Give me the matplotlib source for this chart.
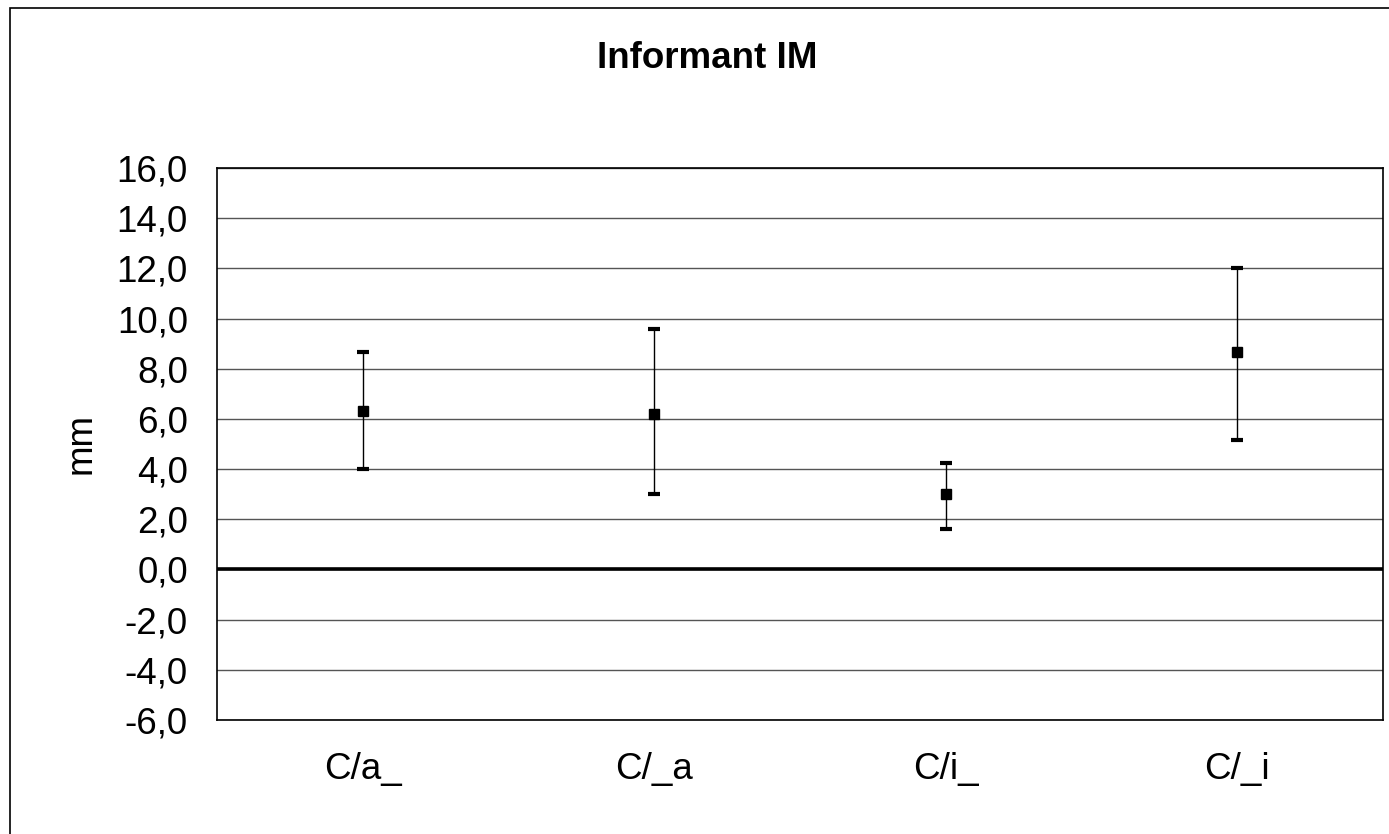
import matplotlib.pyplot as plt
from matplotlib.patches import Rectangle
from matplotlib.ticker import FuncFormatter, MultipleLocator

plt.rcParams["font.family"] = ["Liberation Sans", "DejaVu Sans"]

# Daten
kategorien = ["C/a_", "C/_a", "C/i_", "C/_i"]
mittelwert = [6.3, 6.2, 3.0, 8.65]
obere_grenze = [8.65, 9.6, 4.25, 12.0]
untere_grenze = [4.0, 3.0, 1.6, 5.15]

W, H = 1389, 834
fig = plt.figure(figsize=(W / 100, H / 100), dpi=100)
ax = fig.add_axes([217 / W, 1 - 720 / H, (1383 - 217) / W, (720 - 168) / H])

x = list(range(len(kategorien)))
fehler_unten = [m - u for m, u in zip(mittelwert, untere_grenze)]
fehler_oben = [o - m for m, o in zip(mittelwert, obere_grenze)]

ax.errorbar(x, mittelwert, yerr=[fehler_unten, fehler_oben], fmt="s",
            color="black", ecolor="black", elinewidth=1.0, capsize=4.5,
            capthick=3, markersize=7.5, zorder=5)

ax.set_xlim(-0.5, len(kategorien) - 0.5)
ax.set_ylim(-6, 16)
ax.yaxis.set_major_locator(MultipleLocator(2))
ax.yaxis.set_major_formatter(FuncFormatter(lambda v, p: f"{v:.1f}".replace(".", ",")))
ax.set_xticks(x)
ax.set_xticklabels(kategorien)
ax.tick_params(axis="both", length=0, labelsize=26.5)
ax.tick_params(axis="y", pad=21)
ax.tick_params(axis="x", pad=23)

ax.grid(axis="y", color="#555555", linewidth=1.0)
ax.axhline(0, color="black", linewidth=2.6, zorder=4)
for s in ax.spines.values():
    s.set_linewidth(1.2)
    s.set_color("black")

ax.set_ylabel("mm", fontsize=26.5, labelpad=13)

fig.text(707 / W, 1 - 58 / H, "Informant IM", ha="center", va="center",
         fontsize=26.5, fontweight="bold")

# Rahmen um das Diagramm
fig.patches.append(Rectangle((10 / W, -0.1), 1.2, 1 - 8 / H + 0.1,
                             transform=fig.transFigure, fill=False,
                             edgecolor="black", linewidth=1.2))

fig.savefig("out.png", dpi=100, facecolor="white")
